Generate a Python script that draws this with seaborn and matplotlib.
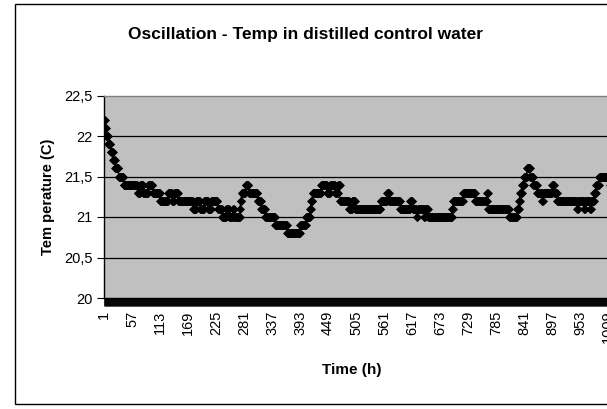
import numpy as np
import pandas as pd
import matplotlib
matplotlib.use("Agg")
import matplotlib.pyplot as plt
from matplotlib import font_manager
from matplotlib.patches import Rectangle
import seaborn as sns

# ---- data (run-length: temperature level, number of hourly readings) ----
temp_levels = [22.2, 22.1, 22.0, 21.9, 21.8, 21.7, 21.6, 21.5,
               21.4,
               21.3, 21.4, 21.3, 21.4, 21.3,
               21.2, 21.3, 21.2, 21.3, 21.2,
               21.1, 21.2, 21.1, 21.2, 21.1, 21.2,
               21.1, 21.0, 21.1, 21.0, 21.1, 21.0,
               21.1, 21.2, 21.3, 21.4, 21.3,
               21.2, 21.1, 21.0, 20.9, 20.8, 20.9, 21.0, 21.1, 21.2,
               21.3, 21.4, 21.3, 21.4, 21.3, 21.4,
               21.2, 21.1, 21.2, 21.1,
               21.2, 21.3, 21.2, 21.1, 21.2, 21.1, 21.0, 21.1, 21.0, 21.1,
               21.0, 21.1, 21.2, 21.3, 21.2, 21.3,
               21.1, 21.0, 21.1, 21.2,
               21.3, 21.4, 21.5, 21.6, 21.5, 21.4, 21.3, 21.2, 21.3, 21.4, 21.3,
               21.2, 21.1, 21.2, 21.1, 21.2, 21.1, 21.2, 21.3, 21.4, 21.5, 21.4]
run_hours = [2, 2, 4, 5, 5, 4, 7, 10,
             28,
             5, 6, 10, 9, 15,
             16, 8, 4, 8, 30,
             6, 8, 8, 8, 6, 13,
             9, 8, 6, 8, 2, 12,
             1, 2, 8, 6, 18,
             7, 8, 20, 24, 26, 12, 8, 2, 3,
             17, 12, 6, 10, 6, 4,
             18, 6, 6, 51,
             13, 4, 22, 20, 5, 8, 2, 13, 2, 6,
             48, 2, 20, 24, 24, 2,
             42, 16, 4, 2,
             4, 4, 6, 6, 6, 8, 10, 2, 18, 4, 6,
             40, 2, 12, 2, 10, 2, 6, 4, 6, 22, 2]

y_ticks = [20, 20.5, 21, 21.5, 22, 22.5]
y_tick_labels = ["20", "20,5", "21", "21,5", "22", "22,5"]
x_tick_hours = list(range(1, 1100, 56))
n_categories = 1101

title = "Oscillation - Temp in distilled control water"
x_label = "Time (h)"
y_label = "Tem perature (C)"

temps = np.repeat(temp_levels, run_hours)
hours = np.arange(1, len(temps) + 1)
df = pd.DataFrame({"hour": hours, "temp": temps})

# ---- fonts ----
names = {f.name for f in font_manager.fontManager.ttflist}
base_font = "Liberation Sans" if "Liberation Sans" in names else "DejaVu Sans"
narrow_font = "Liberation Sans Narrow" if "Liberation Sans Narrow" in names else base_font
plt.rcParams["font.family"] = [base_font]

W, H = 607, 409
fig = plt.figure(figsize=(W / 100, H / 100), dpi=100)
fig.patch.set_facecolor("white")

# outer chart border (right side runs past the picture edge)
fig.patches.append(Rectangle((15 / W, 1 - 404 / H), 1.2, (404 - 4) / H,
                             transform=fig.transFigure, fill=False,
                             edgecolor="black", lw=1.0))

px_per_cat = 0.5
ax_left, ax_top, ax_bottom = 104, 95.5, 298
ax = fig.add_axes([ax_left / W, 1 - ax_bottom / H,
                   (n_categories - 1) * px_per_cat / W, (ax_bottom - ax_top) / H])
ax.set_facecolor("#C0C0C0")

sns.lineplot(data=df, x="hour", y="temp", ax=ax, color="black", lw=0.8,
             marker="D", markersize=3.9, markeredgecolor="black",
             markerfacecolor="black", markeredgewidth=0.5, estimator=None,
             legend=False)

ax.set_xlim(1, n_categories)
ax.set_ylim(20, 22.5)

# gridlines
for v in y_ticks[1:-1]:
    ax.axhline(v, color="black", lw=0.9, zorder=1)

ax.set_yticks(y_ticks)
ax.set_yticklabels(y_tick_labels, fontsize=10.5, family=narrow_font)
ax.set_xticks(x_tick_hours)
ax.set_xticklabels([str(v) for v in x_tick_hours], rotation=90, fontsize=10.5,
                   family=narrow_font, va="top", ha="center")
ax.set_xticks(np.arange(1, n_categories + 1), minor=True)
ax.tick_params(axis="x", which="both", direction="out", length=6, width=0.6,
               color="black", pad=3)
ax.tick_params(axis="y", which="major", direction="out", length=5, width=0.8,
               color="black", pad=3)

ax.spines["right"].set_visible(False)
ax.spines["top"].set_color("#808080")
ax.spines["top"].set_linewidth(1.0)
ax.spines["left"].set_color("black")
ax.spines["left"].set_linewidth(1.0)
ax.spines["bottom"].set_color("black")
ax.spines["bottom"].set_linewidth(1.0)
ax.set_xlabel("")
ax.set_ylabel("")

fig.text(305 / W, 1 - 34 / H, title, ha="center", va="center",
         fontsize=12.5, fontweight="bold", family=narrow_font)
fig.text(352 / W, 1 - 370 / H, x_label, ha="center", va="center",
         fontsize=11, fontweight="bold", family=narrow_font)
fig.text(48 / W, 1 - 197 / H, y_label, ha="center", va="center",
         rotation=90, fontsize=10.5, fontweight="bold", family=base_font)

fig.savefig("out.png", dpi=100)
